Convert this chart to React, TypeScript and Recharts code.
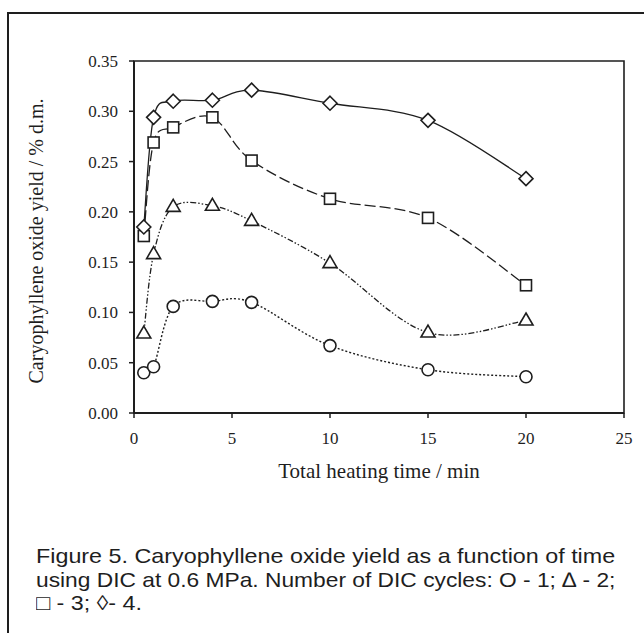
import React from 'react';
import { LineChart, Line, XAxis, YAxis, ReferenceArea, Label } from 'recharts';

// Total heating time (min)
const times = [0.5, 1, 2, 4, 6, 10, 15, 20];
// Caryophyllene oxide yield (% d.m.) by number of DIC cycles
const cycles1 = [0.040, 0.046, 0.106, 0.111, 0.110, 0.067, 0.043, 0.036];
const cycles2 = [0.079, 0.158, 0.205, 0.206, 0.191, 0.149, 0.080, 0.092];
const cycles3 = [0.176, 0.269, 0.284, 0.294, 0.251, 0.213, 0.194, 0.127];
const cycles4 = [0.185, 0.294, 0.310, 0.311, 0.321, 0.308, 0.291, 0.233];

const xTicks = [0, 5, 10, 15, 20, 25];
const yTicks = [0, 0.05, 0.1, 0.15, 0.2, 0.25, 0.3, 0.35];

const captionLines = [
  'Figure 5. Caryophyllene oxide yield as a function of time',
  'using DIC at 0.6 MPa. Number of DIC cycles: O - 1; ∆ - 2;',
  '□ - 3; ◊- 4.',
];
const captionScale = [1.11, 1.084, 1.11];

const data = times.map((t, i) => ({
  t,
  c1: cycles1[i],
  c2: cycles2[i],
  c3: cycles3[i],
  c4: cycles4[i],
}));

const INK = '#1e1e1e';
const SERIF = '"Liberation Serif", "Times New Roman", serif';
const SANS = '"Liberation Sans", Arial, Helvetica, sans-serif';

// Excel-like smoothed line (Catmull-Rom through points)
function smoothCurve(context: any) {
  let pts: number[][] = [];
  return {
    areaStart() {},
    areaEnd() {},
    lineStart() {
      pts = [];
    },
    point(x: number, y: number) {
      pts.push([+x, +y]);
    },
    lineEnd() {
      const n = pts.length;
      if (n === 0) return;
      context.moveTo(pts[0][0], pts[0][1]);
      if (n === 1) return;
      for (let i = 0; i < n - 1; i++) {
        const p0 = pts[i - 1] || pts[i];
        const p1 = pts[i];
        const p2 = pts[i + 1];
        const p3 = pts[i + 2] || pts[i + 1];
        context.bezierCurveTo(
          p1[0] + (p2[0] - p0[0]) / 6,
          p1[1] + (p2[1] - p0[1]) / 6,
          p2[0] - (p3[0] - p1[0]) / 6,
          p2[1] - (p3[1] - p1[1]) / 6,
          p2[0],
          p2[1]
        );
      }
    },
  };
}

const markerStyle = { fill: '#ffffff', stroke: INK, strokeWidth: 1.6 };

const CircleDot = (props: any) => {
  const { cx, cy, index } = props;
  if (cx == null || cy == null) return null;
  return <circle key={`c-${index}`} cx={cx} cy={cy} r={6} {...markerStyle} />;
};

const TriangleDot = (props: any) => {
  const { cx, cy, index } = props;
  if (cx == null || cy == null) return null;
  const d = `M${cx},${cy - 7.5} L${cx + 7},${cy + 4.5} L${cx - 7},${cy + 4.5} Z`;
  return <path key={`t-${index}`} d={d} {...markerStyle} />;
};

const SquareDot = (props: any) => {
  const { cx, cy, index } = props;
  if (cx == null || cy == null) return null;
  return <rect key={`s-${index}`} x={cx - 5.5} y={cy - 5.5} width={11} height={11} {...markerStyle} />;
};

const DiamondDot = (props: any) => {
  const { cx, cy, index } = props;
  if (cx == null || cy == null) return null;
  const d = `M${cx},${cy - 7} L${cx + 7},${cy} L${cx},${cy + 7} L${cx - 7},${cy} Z`;
  return <path key={`d-${index}`} d={d} {...markerStyle} />;
};

const tickStyle = { fontSize: 17, fontFamily: SERIF, fill: INK };

export default function App() {
  return (
    <div
      style={{
        position: 'absolute',
        left: 0,
        top: 0,
        width: 644,
        height: 633,
        overflow: 'hidden',
        background: '#ffffff',
      }}
    >
      <div
        style={{
          position: 'absolute',
          left: 7,
          top: 12,
          width: 700,
          height: 700,
          border: `2px solid ${INK}`,
          boxSizing: 'border-box',
        }}
      />
      <div style={{ position: 'absolute', left: 0, top: 0 }}>
        <LineChart
          width={644}
          height={500}
          data={data}
          margin={{ top: 61, right: 20, left: 0, bottom: 27 }}
        >
          <ReferenceArea
            x1={0}
            x2={25}
            y1={0}
            y2={0.35}
            fill="none"
            fillOpacity={0}
            stroke={INK}
            strokeWidth={1.6}
          />
          <XAxis
            type="number"
            dataKey="t"
            domain={[0, 25]}
            ticks={xTicks}
            interval={0}
            height={60}
            tickSize={5}
            tickMargin={14}
            tick={tickStyle}
            axisLine={{ stroke: INK, strokeWidth: 2 }}
            tickLine={{ stroke: INK, strokeWidth: 1.5 }}
          >
            <Label
              content={() => (
                <text
                  x={379}
                  y={478}
                  textAnchor="middle"
                  fontSize={21}
                  fontFamily={SERIF}
                  fill={INK}
                >
                  Total heating time / min
                </text>
              )}
            />
          </XAxis>
          <YAxis
            type="number"
            domain={[0, 0.35]}
            ticks={yTicks}
            interval={0}
            width={134}
            tickSize={5}
            tickMargin={11}
            tick={tickStyle}
            tickFormatter={(v: number) => v.toFixed(2)}
            axisLine={{ stroke: INK, strokeWidth: 2 }}
            tickLine={{ stroke: INK, strokeWidth: 1.5 }}
          >
            <Label
              content={() => (
                <text
                  x={43}
                  y={241}
                  transform="rotate(-90 43 241)"
                  textAnchor="middle"
                  fontSize={20}
                  fontFamily={SERIF}
                  fill={INK}
                >
                  Caryophyllene oxide yield / % d.m.
                </text>
              )}
            />
          </YAxis>
          <Line
            dataKey="c1"
            type={smoothCurve as any}
            stroke={INK}
            strokeWidth={1.4}
            strokeDasharray="2 2"
            dot={CircleDot}
            activeDot={false}
            isAnimationActive={false}
          />
          <Line
            dataKey="c2"
            type={smoothCurve as any}
            stroke={INK}
            strokeWidth={1.3}
            strokeDasharray="6 2 1.5 2 1.5 2"
            dot={TriangleDot}
            activeDot={false}
            isAnimationActive={false}
          />
          <Line
            dataKey="c3"
            type={smoothCurve as any}
            stroke={INK}
            strokeWidth={1.3}
            strokeDasharray="11 4"
            dot={SquareDot}
            activeDot={false}
            isAnimationActive={false}
          />
          <Line
            dataKey="c4"
            type={smoothCurve as any}
            stroke={INK}
            strokeWidth={1.3}
            dot={DiamondDot}
            activeDot={false}
            isAnimationActive={false}
          />
        </LineChart>
      </div>
      <div
        style={{
          position: 'absolute',
          left: 36,
          top: 544,
          fontFamily: SANS,
          fontSize: 21,
          lineHeight: '23.5px',
          color: INK,
          whiteSpace: 'nowrap',
        }}
      >
        {captionLines.map((line, i) => (
          <div
            key={i}
            style={{ transform: `scaleX(${captionScale[i]})`, transformOrigin: '0 0' }}
          >
            {line}
          </div>
        ))}
      </div>
    </div>
  );
}
